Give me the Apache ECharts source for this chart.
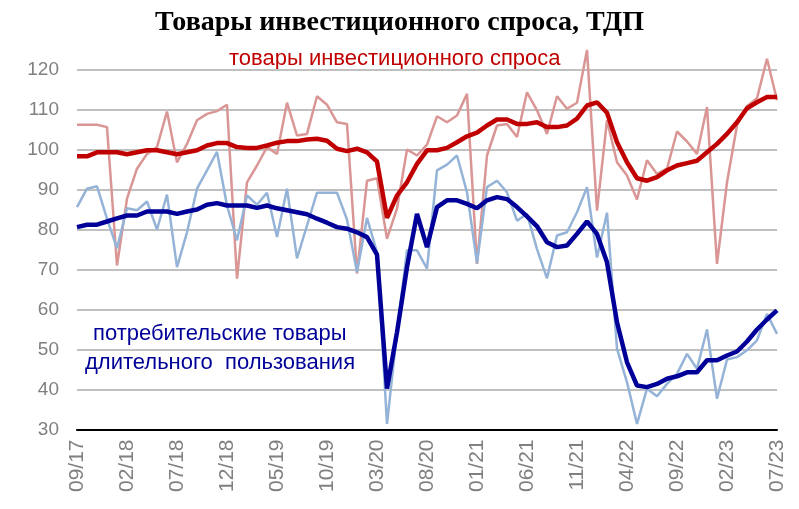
<!DOCTYPE html>
<html>
<head>
<meta charset="utf-8">
<script src="https://cdn.jsdelivr.net/npm/echarts@6/dist/echarts.min.js"></script>
<style>
  html, body { margin: 0; padding: 0; background: #fff; }
  #chart { width: 799px; height: 509px; }
</style>
</head>
<body>
<div id="chart"></div>
<script>
// months 09/17 .. 07/23
var months = []
for (var k = 0; k < 71; k++) {
  var m = (8 + k) % 12 + 1
  var y = 17 + Math.floor((8 + k) / 12)
  months.push((m < 10 ? '0' + m : '' + m) + '/' + y)
}

// товары инвестиционного спроса, месячные значения
var investRaw = [
  106.2, 106.2, 106.2, 105.6, 71.0, 87.7, 95.2, 98.9, 100.6, 109.5,
  96.8, 101.4, 107.3, 108.9, 109.6, 111.2, 67.7, 91.8, 96.0, 100.6,
  98.9, 111.7, 103.5, 103.9, 113.3, 111.2, 106.8, 106.4, 69.0, 92.2,
  92.8, 77.7, 85.2, 100.0, 98.5, 101.2, 108.3, 106.8, 108.5, 113.9,
  71.4, 98.5, 106.0, 106.4, 103.1, 114.3, 109.8, 103.9, 113.3, 110.2,
  111.7, 124.9, 84.7, 107.3, 96.8, 93.5, 87.5, 97.3, 93.9, 95.2,
  104.5, 102.0, 98.9, 110.6, 71.4, 91.8, 106.0, 110.8, 112.8, 122.7,
  112.3
]
// товары инвестиционного спроса, тренд
var investTrend = [
  98.3, 98.3, 99.3, 99.3, 99.3, 98.8, 99.3, 99.8, 99.8, 99.3,
  98.8, 99.3, 99.8, 101.0, 101.6, 101.6, 100.6, 100.4, 100.4, 101.0,
  101.7, 102.1, 102.1, 102.5, 102.7, 102.2, 100.2, 99.6, 100.2, 99.3,
  97.0, 82.9, 88.5, 91.8, 96.4, 99.8, 99.8, 100.4, 101.8, 103.3,
  104.2, 106.0, 107.5, 107.5, 106.4, 106.4, 106.8, 105.6, 105.6, 106.0,
  107.7, 111.0, 111.8, 109.2, 101.8, 96.8, 92.8, 92.2, 93.1, 94.8,
  96.0, 96.6, 97.2, 99.3, 101.4, 103.9, 106.8, 110.3, 111.8, 113.1,
  113.1
]
// потребительские товары длительного пользования, месячные значения
var durableRaw = [
  85.6, 90.2, 90.8, 82.7, 75.3, 85.3, 84.8, 87.0, 80.0, 88.7,
  70.6, 79.3, 90.2, 94.8, 99.4, 86.0, 77.3, 88.5, 86.2, 89.2,
  78.1, 90.2, 72.8, 81.0, 89.2, 89.2, 89.2, 82.5, 69.3, 82.9,
  74.3, 31.4, 54.3, 74.8, 74.8, 70.2, 94.8, 96.2, 98.5, 89.3,
  71.6, 90.6, 92.2, 89.3, 82.2, 83.9, 75.1, 67.8, 78.5, 79.3,
  84.3, 90.6, 73.0, 84.2, 50.2, 41.8, 31.4, 40.2, 38.3, 41.4,
  43.9, 48.9, 45.2, 55.0, 37.7, 47.5, 48.1, 49.8, 52.3, 58.9,
  53.9
]
// потребительские товары длительного пользования, тренд
var durableTrend = [
  80.6, 81.2, 81.2, 82.0, 82.8, 83.5, 83.5, 84.5, 84.5, 84.5,
  83.9, 84.5, 85.0, 86.2, 86.6, 86.0, 86.0, 86.0, 85.4, 86.0,
  85.3, 84.8, 84.3, 83.8, 82.7, 81.7, 80.6, 80.2, 79.3, 78.1,
  73.7, 40.2, 54.3, 70.6, 83.9, 75.6, 85.6, 87.3, 87.3, 86.4,
  85.3, 87.3, 88.1, 87.6, 85.6, 83.3, 80.8, 76.8, 75.6, 76.0,
  78.9, 82.0, 78.9, 71.8, 56.8, 46.8, 41.0, 40.6, 41.4, 42.7,
  43.3, 44.3, 44.3, 47.3, 47.3, 48.5, 49.5, 52.0, 55.0, 57.5,
  59.8
]
var yTicks = [30, 40, 50, 60, 70, 80, 90, 100, 110, 120]

var chart = echarts.init(document.getElementById('chart'))

function line(name, data, color, width, z) {
  return {
    name: name,
    type: 'line',
    data: data,
    symbol: 'none',
    clip: false,
    z: z,
    lineStyle: { color: color, width: width },
    animation: false
  }
}

chart.setOption({
  title: {
    text: 'Товары инвестиционного спроса, ТДП',
    left: 'center',
    top: 4,
    textStyle: {
      fontFamily: 'Liberation Serif',
      fontWeight: 'bold',
      fontSize: 28,
      color: '#000'
    }
  },
  grid: { left: 77, right: 22, top: 69.5, bottom: 79.5 },
  xAxis: {
    type: 'category',
    data: months,
    boundaryGap: false,
    axisLine: { lineStyle: { color: '#000', width: 2 } },
    axisTick: { show: false },
    axisLabel: {
      interval: 4,
      rotate: 90,
      margin: 10,
      color: '#808080',
      fontFamily: 'Liberation Sans',
      fontSize: 21
    },
    splitLine: { show: false }
  },
  yAxis: {
    type: 'value',
    min: yTicks[0],
    max: yTicks[yTicks.length - 1],
    interval: 10,
    axisLine: { show: false },
    axisTick: { show: false },
    axisLabel: {
      margin: 18,
      color: '#808080',
      fontFamily: 'Liberation Sans',
      fontSize: 19
    },
    splitLine: { lineStyle: { color: '#c0c0c0', width: 2 } }
  },
  graphic: [
    {
      type: 'text', left: 229, top: 48,
      style: {
        text: 'товары инвестиционного спроса',
        fill: '#c00000',
        font: '22px "Liberation Sans"'
      }
    },
    {
      type: 'text', left: 93, top: 323,
      style: {
        text: 'потребительские товары',
        fill: '#000099',
        font: '22px "Liberation Sans"'
      }
    },
    {
      type: 'text', left: 85, top: 352,
      style: {
        text: 'длительного  пользования',
        fill: '#000099',
        font: '22px "Liberation Sans"'
      }
    }
  ],
  series: [
    line('инвест. спрос', investRaw, '#d99694', 2.5, 2),
    line('ТДП', durableRaw, '#95b3d7', 2.5, 2),
    line('инвест. спрос, тренд', investTrend, '#c00000', 4.5, 3),
    line('ТДП, тренд', durableTrend, '#000099', 4.5, 3)
  ]
})
</script>
</body>
</html>
